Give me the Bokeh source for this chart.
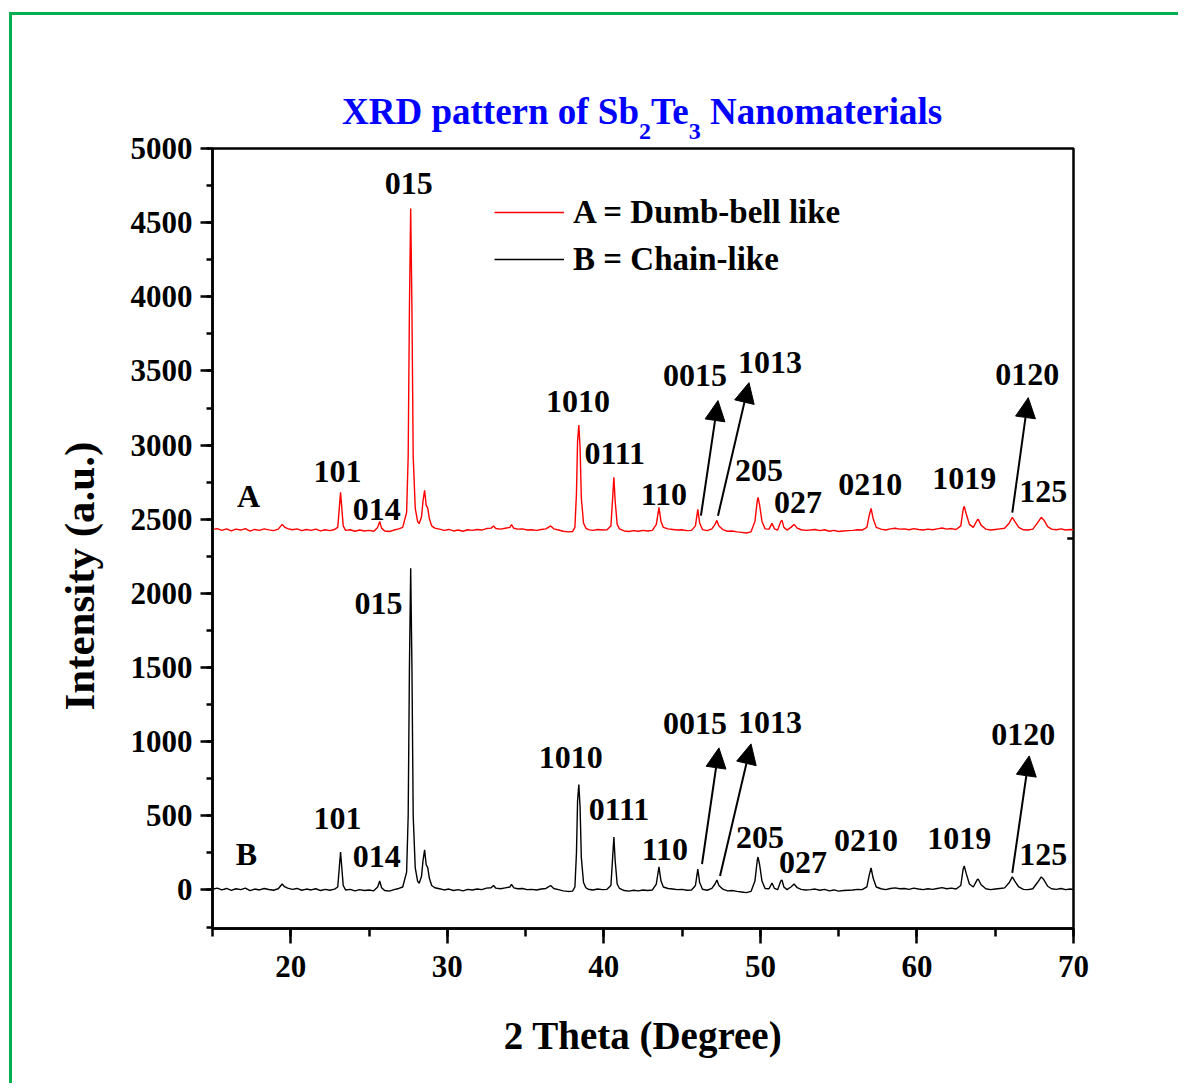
from bokeh.plotting import figure
from bokeh.layouts import column
from bokeh.models import (Range1d, Label, LabelSet, Arrow, NormalHead, Legend, LegendItem,
                          ColumnDataSource, SingleIntervalTicker, Div, Title)
from bokeh.core.properties import value
from bokeh.embed import file_html
from bokeh.resources import INLINE

# ---------------- data ----------------
two_theta = [
    15.0, 15.3, 15.6, 15.9, 16.2, 16.5, 16.8, 17.1, 17.4, 17.7, 18.0, 18.3, 18.6, 18.9, 19.2,
    19.45, 19.6, 19.8, 20.1, 20.4, 20.7, 21.0, 21.3, 21.6, 21.9, 22.2, 22.5, 22.8,
    23.0, 23.1, 23.18, 23.26, 23.35, 23.5, 23.8, 24.1, 24.4, 24.7, 25.0, 25.3,
    25.55, 25.68, 25.8, 26.0, 26.3, 26.6, 26.9, 27.15, 27.4, 27.5, 27.58, 27.66, 27.74,
    27.82, 27.95, 28.1, 28.2, 28.35, 28.45, 28.55, 28.65, 28.75, 28.85, 29.0, 29.2,
    29.5, 29.8, 30.1, 30.4, 30.7, 31.0, 31.3, 31.6, 31.9, 32.2, 32.5, 32.8, 32.95,
    33.1, 33.4, 33.7, 34.0, 34.1, 34.25, 34.5, 34.8, 35.1, 35.4, 35.7, 36.0, 36.3,
    36.6, 36.8, 37.1, 37.4, 37.7, 38.0, 38.15, 38.25, 38.32, 38.4, 38.48, 38.56, 38.7,
    38.85, 39.0, 39.3, 39.6, 39.9, 40.2, 40.45, 40.55, 40.64, 40.72, 40.85, 41.0, 41.3,
    41.6, 41.9, 42.2, 42.5, 42.8, 43.1, 43.35, 43.52, 43.65, 43.8, 44.1, 44.4, 44.7,
    45.0, 45.3, 45.6, 45.85, 46.0, 46.12, 46.3, 46.6, 46.9, 47.1, 47.22, 47.35, 47.6,
    47.9, 48.2, 48.5, 48.8, 49.1, 49.4, 49.65, 49.8, 49.85, 49.95, 50.1, 50.3, 50.55,
    50.74, 50.9, 51.1, 51.3, 51.38, 51.5, 51.7, 51.95, 52.15, 52.35, 52.6, 52.9, 53.2,
    53.5, 53.8, 54.1, 54.4, 54.7, 55.0, 55.3, 55.6, 55.9, 56.2, 56.5, 56.8, 56.95,
    57.07, 57.2, 57.4, 57.7, 58.0, 58.3, 58.6, 58.9, 59.2, 59.5, 59.8, 60.1, 60.4,
    60.7, 61.0, 61.3, 61.6, 61.9, 62.2, 62.5, 62.8, 62.95, 63.02, 63.15, 63.35, 63.6,
    63.85, 63.91, 64.1, 64.4, 64.7, 65.0, 65.3, 65.6, 65.9, 66.09, 66.25, 66.5, 66.8,
    67.1, 67.4, 67.7, 67.94, 68.1, 68.35, 68.6, 68.9, 69.2, 69.5, 69.8, 70.0,
]
counts_b = [
    5, 12, 0, 10, -3, 8, 2, 12, -5, 6, 0, 10, 3, -2, 8,
    40, 22, 12, 4, 10, -2, 6, 0, 8, -4, 4, -2, 6,
    20, 150, 256, 150, 30, 0, 4, -6, 2, -4, 0, -6,
    20, 60, 15, -4, -8, 2, 10, 20, 120, 500, 1500, 2170, 1500,
    500, 150, 60, 45, 90, 200, 270, 170, 150, 80, 30, 15,
    8, 0, 6, -4, 2, -6, 4, 0, 6, 2, 12, 15, 30,
    12, 8, 14, 20, 38, 14, 8, 10, 2, 4, 0, 6, 10,
    30, 10, 2, -6, -10, -8, 20, 250, 600, 710, 560, 220, 50,
    15, 5, 0, 6, 2, 4, 30, 200, 357, 200, 40, 10, -4,
    -8, -2, -6, 0, -4, 0, 40, 155, 60, 20, 10, 6, 2,
    4, -2, 0, 30, 141, 50, 5, -2, 10, 40, 67, 30, 5,
    -6, -4, -10, -14, -18, -10, 60, 200, 222, 170, 60, 10, 8,
    47, 10, 2, 60, 67, 20, 2, 20, 40, 15, 4, 0, 2,
    6, -2, 4, -6, 0, -8, -4, -2, 0, 4, 2, 20, 100,
    148, 80, 20, 8, 2, 10, 14, 8, 10, 4, 12, 6, 2,
    8, 4, 10, 16, 8, 12, 6, 30, 140, 162, 110, 40, 20,
    70, 74, 35, 8, 2, 6, 10, 14, 50, 88, 60, 20, 4,
    2, 8, 50, 88, 70, 25, 8, 4, 10, 2, 6, 4,
]
offset_a = 2425  # pattern A is drawn shifted upward
counts_a = [c + offset_a for c in counts_b]

peak_labels = ["101", "014", "015", "1010", "0111", "110", "0015", "1013",
               "205", "027", "0210", "1019", "0120", "125"]
label_x_a = [22.99, 25.49, 27.53, 38.34, 40.70, 43.84, 45.82, 50.61, 49.91, 52.40, 57.01, 63.02, 67.05, 68.07]
label_y_a = [2821, 2564, 4764, 3293, 2942, 2665, 3468, 3556, 2827, 2611, 2733, 2773, 3475, 2686]
label_x_b = [22.99, 25.49, 25.61, 37.89, 40.96, 43.90, 45.82, 50.61, 49.97, 52.72, 56.75, 62.70, 66.79, 68.07]
label_y_b = [479, 223, 1930, 891, 540, 270, 1120, 1127, 351, 182, 331, 344, 1046, 236]

# arrows: (x_start, y_start, x_end, y_end)
arrows_a = [(46.20, 2524, 47.29, 3300), (47.29, 2524, 49.27, 3421), (66.09, 2544, 67.11, 3320)]
arrows_b = [(46.27, 175, 47.35, 958), (47.42, 94, 49.40, 985), (66.09, 115, 67.17, 904)]

series_names = ["A = Dumb-bell like", "B = Chain-like"]
right_tick_y = 2370

FONT = "Liberation Serif"

p = figure(frame_width=861, frame_height=780,
           min_border_left=200, min_border_right=105, min_border_top=20, min_border_bottom=155,
           x_range=Range1d(15, 70), y_range=Range1d(-260, 5000),
           output_backend="svg", toolbar_location=None)

p.xgrid.visible = False
p.ygrid.visible = False
p.background_fill_color = "white"
p.border_fill_color = None
p.outline_line_color = "black"
p.outline_line_width = 2.5
p.outline_line_alpha = 1.0

p.xaxis.ticker = SingleIntervalTicker(interval=10, num_minor_ticks=2)
p.yaxis.ticker = SingleIntervalTicker(interval=500, num_minor_ticks=2)
for ax in (p.xaxis[0], p.yaxis[0]):
    ax.axis_line_width = 2.5
    ax.major_tick_line_width = 2.5
    ax.minor_tick_line_width = 2.5
    ax.major_tick_in = 0
    ax.minor_tick_in = 0
    ax.major_label_text_font = FONT
    ax.major_label_text_font_style = "bold"
    ax.major_label_text_font_size = "31px"
    ax.major_label_text_color = "black"
    ax.axis_label_text_font = FONT
    ax.axis_label_text_font_style = "bold"
    ax.axis_label_text_color = "black"
p.xaxis.major_label_standoff = 12
p.yaxis.major_label_standoff = 8
p.xaxis.major_tick_out = 15
p.xaxis.minor_tick_out = 8
p.yaxis.major_tick_out = 12
p.yaxis.minor_tick_out = 6
p.xaxis.axis_label = "2 Theta (Degree)"
p.xaxis.axis_label_text_font_size = "39px"
p.xaxis.axis_label_standoff = 34

# y-axis title placed with an offset along the axis (as in the reference)
y_title = Title(text="Intensity (a.u.)", align="left", offset=218, vertical_align="middle",
                text_font=FONT, text_font_style="bold", text_font_size="43px",
                text_color="black", standoff=48)
p.add_layout(y_title, "left")

src = ColumnDataSource(dict(x=two_theta, a=counts_a, b=counts_b))
ra = p.line("x", "a", source=src, line_color="#FF0000", line_width=1.4)
rb = p.line("x", "b", source=src, line_color="black", line_width=1.4)

# small tick on the right frame side
p.add_layout(Arrow(x_start=69.6, y_start=right_tick_y, x_end=70.5, y_end=right_tick_y,
                   end=None, line_width=2.5, line_color="black"))

legend = Legend(items=[LegendItem(label=series_names[0], renderers=[ra]),
                       LegendItem(label=series_names[1], renderers=[rb])],
                location=(282, 649), orientation="vertical",
                border_line_color=None, background_fill_alpha=0,
                label_text_font=FONT, label_text_font_style="bold", label_text_font_size="33px",
                label_text_color="black",
                glyph_width=70, glyph_height=40, label_height=40, label_standoff=9,
                spacing=7, padding=0, margin=0)
p.add_layout(legend)

for lx, ly in ((label_x_a, label_y_a), (label_x_b, label_y_b)):
    ls = LabelSet(x="x", y="y", text="t",
                  source=ColumnDataSource(dict(x=lx, y=ly, t=peak_labels)),
                  text_font=value(FONT), text_font_style="bold", text_font_size="32px",
                  text_align="center", text_baseline="middle", text_color="black")
    p.add_layout(ls)

p.add_layout(Label(x=17.30, y=2659, text="A", text_font=FONT, text_font_style="bold",
                   text_font_size="32px", text_align="center", text_baseline="middle",
                   text_color="black"))
p.add_layout(Label(x=17.17, y=243, text="B", text_font=FONT, text_font_style="bold",
                   text_font_size="32px", text_align="center", text_baseline="middle",
                   text_color="black"))

for arr in (arrows_a, arrows_b):
    for (xs, ys, xe, ye) in arr:
        p.add_layout(Arrow(x_start=xs, y_start=ys, x_end=xe, y_end=ye, line_width=2,
                           line_color="black",
                           end=NormalHead(size=20, fill_color="black", line_color="black",
                                          line_width=1)))

# title with real subscripts (HTML text)
sub_style = "font-size:24px; vertical-align:-15px; line-height:0;"
title_html = (
    "<div style=\"padding-left:330px; padding-top:78px; white-space:nowrap; overflow:visible; "
    "font-family:'Liberation Serif'; font-weight:bold; font-size:37px; line-height:37px; "
    "color:#0000FF;\">XRD pattern of Sb<sub style=\"" + sub_style + "\">2</sub>Te"
    "<sub style=\"" + sub_style + "\">3</sub> Nanomaterials</div>"
)
title_div = Div(text=title_html, width=1166, height=113, margin=0,
                styles={"overflow": "visible", "position": "relative", "z-index": "10"},
                stylesheets=[":host { overflow: visible !important; } "
                             "div { overflow: visible !important; }"])

page = column(title_div, p, spacing=0,
              styles={"border-left": "3px solid #00B050", "border-top": "3px solid #00B050",
                      "position": "relative", "left": "9px", "top": "12px"})

open("out.html", "w").write(file_html(page, INLINE))
